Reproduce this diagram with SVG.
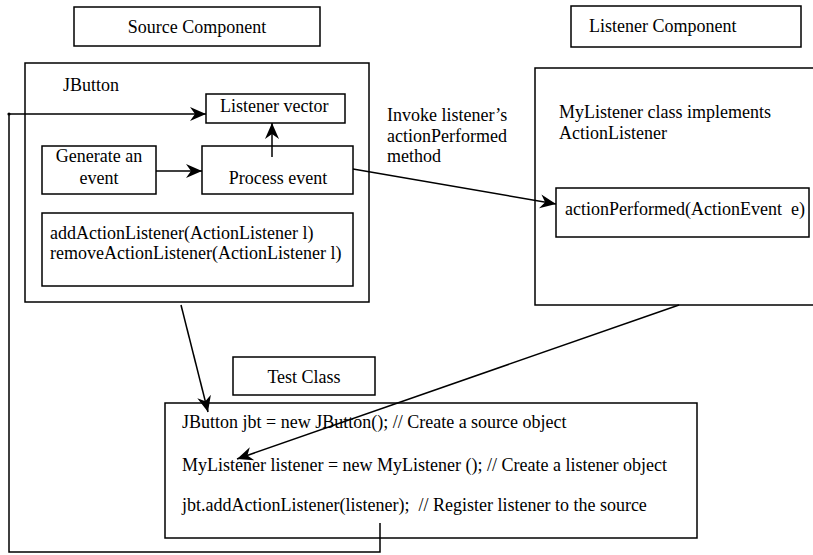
<svg xmlns="http://www.w3.org/2000/svg" width="813" height="555" viewBox="0 0 813 555">
  <style>
    text { font-family: "Liberation Serif", "Times New Roman", serif; font-size: 18px; fill: #000; white-space: pre; }
    .box { fill: #fff; stroke: #000; stroke-width: 1.5; }
    .c { text-anchor: middle; }
    .conn { fill: none; stroke: #000; stroke-width: 1.5; }
  </style>
  <defs>
    <marker id="ah" markerUnits="userSpaceOnUse" markerWidth="18" markerHeight="16" refX="16" refY="7" orient="auto">
      <path d="M0,0 L16,7 L0,14 L5,7 Z" fill="#000"/>
    </marker>
  </defs>

  <rect width="813" height="555" fill="#fff"/>

  <g id="source-component-label">
    <rect class="box" x="74" y="7" width="246" height="39"/>
    <text class="c" x="197" y="33">Source Component</text>
  </g>

  <g id="listener-component-label">
    <rect class="box" x="571" y="6" width="230" height="41"/>
    <text x="589" y="32">Listener Component</text>
  </g>

  <g id="jbutton">
    <rect class="box" x="25" y="63" width="344" height="239"/>
    <text x="63" y="91">JButton</text>
  </g>

  <g id="listener-vector">
    <rect class="box" x="206" y="94" width="139" height="29"/>
    <text x="220" y="112">Listener vector</text>
  </g>

  <g id="generate-event">
    <rect class="box" x="42" y="146" width="114" height="48"/>
    <text class="c" x="99" y="162">Generate an</text>
    <text class="c" x="99" y="184">event</text>
  </g>

  <g id="process-event">
    <rect class="box" x="202" y="146" width="151" height="48"/>
    <text class="c" x="278" y="184">Process event</text>
  </g>

  <g id="add-remove">
    <rect class="box" x="42" y="213" width="311" height="73"/>
    <text x="50" y="239">addActionListener(ActionListener l)</text>
    <text x="50" y="259">removeActionListener(ActionListener l)</text>
  </g>

  <g id="invoke-label">
    <text x="387" y="121">Invoke listener’s</text>
    <text x="387" y="142">actionPerformed</text>
    <text x="387" y="162">method</text>
  </g>

  <g id="mylistener">
    <rect class="box" x="535" y="68" width="300" height="237"/>
    <text x="559" y="118">MyListener class implements</text>
    <text x="559" y="139">ActionListener</text>
  </g>

  <g id="action-performed">
    <rect class="box" x="556" y="188" width="253" height="49"/>
    <text x="565" y="215">actionPerformed(ActionEvent  e)</text>
  </g>

  <g id="test-class-label">
    <rect class="box" x="233" y="357" width="142" height="38"/>
    <text class="c" x="304" y="383">Test Class</text>
  </g>

  <g id="test-class">
    <rect class="box" x="165" y="403" width="532" height="135"/>
    <text x="182" y="428">JButton jbt = new JButton(); // Create a source object</text>
    <text x="182" y="471">MyListener listener = new MyListener (); // Create a listener object</text>
    <text x="182" y="511">jbt.addActionListener(listener);  // Register listener to the source</text>
  </g>

  <g id="connectors">
    <path class="conn" d="M380,523 L380,552 L9,552 L9,114 L206,114" marker-end="url(#ah)"/>
    <circle cx="9" cy="114" r="1.6" fill="#000"/>
    <line class="conn" x1="156" y1="171" x2="202" y2="171" marker-end="url(#ah)"/>
    <line class="conn" x1="272" y1="157" x2="272" y2="123" marker-end="url(#ah)"/>
    <line class="conn" x1="353" y1="169" x2="556" y2="204" marker-end="url(#ah)"/>
    <line class="conn" x1="181" y1="305" x2="208" y2="412" marker-end="url(#ah)"/>
    <line class="conn" x1="679" y1="305" x2="237" y2="459" marker-end="url(#ah)"/>
  </g>
</svg>
